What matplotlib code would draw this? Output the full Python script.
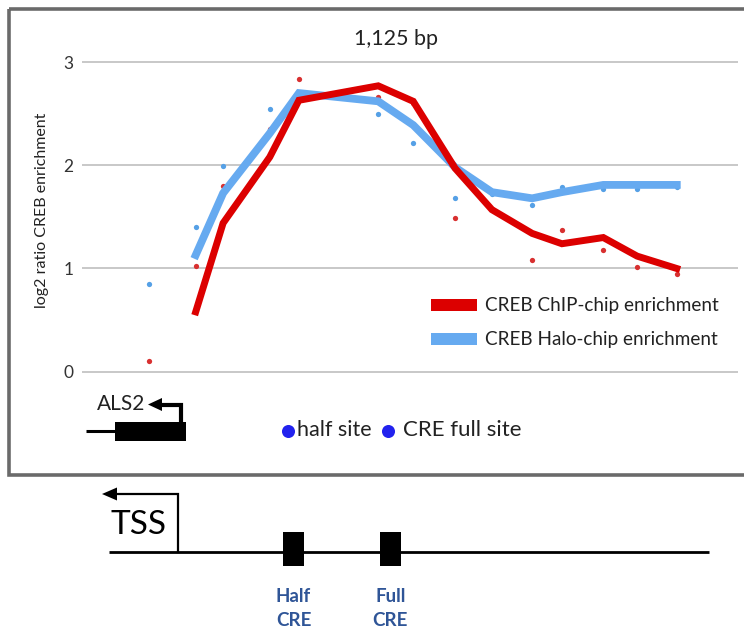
import matplotlib
matplotlib.use("Agg")
import matplotlib.pyplot as plt
from matplotlib.patches import Rectangle, Polygon

plt.rcParams['font.family'] = ['Lato', 'DejaVu Sans']

# Probe positions along the ALS2 promoter region (bp)
probe_bp = [115, 195, 242, 322, 372, 508, 568, 640, 703, 772, 823, 894, 952, 1020]

# Per-probe log2 enrichment
chip_points = [0.10, 1.02, 1.80, 2.35, 2.84, 2.66, 2.60, 1.49, 1.58, 1.08, 1.37, 1.18, 1.01, 0.95]
halo_points = [0.85, 1.40, 1.99, 2.55, 2.70, 2.50, 2.22, 1.68, 1.72, 1.62, 1.79, 1.77, 1.77, 1.79]

# Smoothed enrichment traces (from the second probe onward)
line_bp = probe_bp[1:]
chip_smooth = [0.58, 1.44, 2.08, 2.63, 2.77, 2.62, 1.97, 1.57, 1.34, 1.24, 1.30, 1.12, 1.00]
halo_smooth = [1.13, 1.73, 2.31, 2.70, 2.62, 2.39, 1.98, 1.74, 1.68, 1.74, 1.81, 1.81, 1.81]

y_ticks = [0, 1, 2, 3]
series_labels = ["CREB ChIP-chip enrichment", "CREB Halo-chip enrichment"]

RED = "#dc0000"
BLUE = "#66aaf0"
W, H = 744, 628

fig = plt.figure(figsize=(W / 100, H / 100), dpi=100)

# Pixel-space canvas for frame, gene icons and promoter schematic
canvas = fig.add_axes([0, 0, 1, 1])
canvas.set_xlim(0, W)
canvas.set_ylim(H, 0)
canvas.axis("off")

# Frame around the enrichment panel (right edge runs past the figure)
canvas.add_patch(Rectangle((8.5, 8.5), 760, 466, fill=False, edgecolor="#6a6a6a", lw=2.6))

# Enrichment panel
def px_frac(x0, x1, y_top, y_bot):
    return [x0 / W, 1 - y_bot / H, (x1 - x0) / W, (y_bot - y_top) / H]

ax = fig.add_axes(px_frac(82, 738, 20, 460))
ax.patch.set_alpha(0)
px_per_unit = 103.2
ax.set_ylim((371.7 - 460) / px_per_unit, (371.7 - 20) / px_per_unit)
ax.set_xlim(0, 1125)
for s in ax.spines.values():
    s.set_visible(False)
ax.set_xticks([])
ax.set_yticks(y_ticks)
ax.set_yticklabels([str(t) for t in y_ticks], fontsize=12.5, color="#333333")
ax.tick_params(axis="y", length=0, pad=6)
for t in y_ticks:
    ax.axhline(t, color="#c4c4c4", lw=1.3, zorder=1)

ax.plot(probe_bp, chip_points, "o", ms=3.8, color="#d83030", mec="none", zorder=2)
ax.plot(probe_bp, halo_points, "o", ms=3.8, color="#55a0e6", mec="none", zorder=2)
ax.plot(line_bp, halo_smooth, color=BLUE, lw=5.6, solid_joinstyle="miter", zorder=3)
ax.plot(line_bp, chip_smooth, color=RED, lw=5.0, solid_joinstyle="miter", zorder=4)

fig.text(396 / W, 1 - 39 / H, "1,125 bp", fontsize=15.5, color="#222222", ha="center", va="center")
fig.text(42 / W, 1 - 210 / H, "log2 ratio CREB enrichment", fontsize=11.5, color="#222222",
         rotation=90, ha="center", va="center")

# Legend
for (y, col, lab) in [(305, RED, series_labels[0]), (339, BLUE, series_labels[1])]:
    canvas.add_patch(Rectangle((431, y - 6), 46, 12, color=col, lw=0))
    canvas.text(485, y, lab, fontsize=13.6, color="#222222", ha="left", va="center")

# ALS2 gene icon
canvas.plot([86, 115], [430.5, 430.5], color="black", lw=2.2, solid_capstyle="butt")
canvas.add_patch(Rectangle((115, 422), 71, 19, color="black", lw=0))
canvas.plot([180.5, 180.5, 158], [422, 404.5, 404.5], color="black", lw=3, solid_joinstyle="miter")
canvas.add_patch(Polygon([[148, 404.5], [162, 398], [162, 411]], closed=True, color="black", lw=0))
canvas.text(121, 404, "ALS2", fontsize=15, color="#222222", ha="center", va="center")

# Site key
canvas.plot([287.7, 388.3], [431, 431], "o", ms=9.4, color="#2222ee", mec="none", ls="none")
canvas.text(297, 430, "half site", fontsize=15.5, color="#222222", ha="left", va="center")
canvas.text(403, 430, "CRE full site", fontsize=16, color="#222222", ha="left", va="center")

# Promoter schematic
canvas.plot([109, 709], [551.7, 551.7], color="black", lw=2, solid_capstyle="butt")
canvas.plot([178, 178, 114], [551.7, 494, 494], color="black", lw=1.6, solid_joinstyle="miter")
canvas.add_patch(Polygon([[102, 494], [117, 487.5], [117, 500.5]], closed=True, color="black", lw=0))
canvas.text(138.6, 525, "TSS", fontsize=24, color="black", ha="center", va="center")
for x0, x1, word in [(283, 304, "Half"), (380, 400.5, "Full")]:
    canvas.add_patch(Rectangle((x0, 532), x1 - x0, 34, color="black", lw=0))
    cx = (x0 + x1) / 2
    canvas.text(cx, 596, word, fontsize=13.5, fontweight="bold", color="#2f5597",
                ha="center", va="center")
    canvas.text(cx, 620, "CRE", fontsize=13.5, fontweight="bold", color="#2f5597",
                ha="center", va="center")

fig.savefig("out.png", dpi=100)
